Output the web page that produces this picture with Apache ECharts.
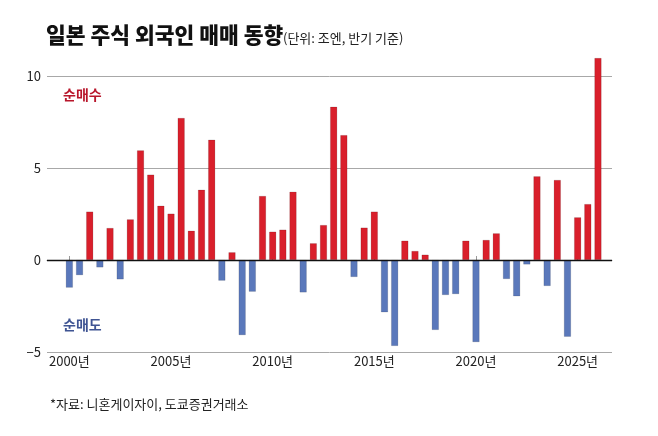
<!DOCTYPE html>
<html>
<head>
<meta charset="utf-8">
<script src="https://cdn.jsdelivr.net/npm/echarts@6/dist/echarts.min.js"></script>
<style>html,body{margin:0;padding:0;background:#fff;}#c{width:658px;height:436px;}</style>
</head>
<body>
<div id="c"></div>
<script>
// Half-year periods 2000 H1 .. 2026 H1
const periods = [];
for (let y = 2000; y <= 2026; y++) { periods.push(y + 'H1'); if (y < 2026) periods.push(y + 'H2'); }
// Net foreign buying of Japanese stocks (trillion yen, per half-year)
const values = [
  -1.5, -0.82, 2.63, -0.4, 1.74, -1.05, 2.21, 5.96, 4.64, 2.95,
  2.52, 7.72, 1.59, 3.82, 6.54, -1.12, 0.42, -4.08, -1.72, 3.48,
  1.54, 1.65, 3.71, -1.76, 0.91, 1.9, 8.33, 6.79, -0.92, 1.76,
  2.63, -2.84, -4.67, 1.05, 0.49, 0.29, -3.8, -1.9, -1.85, 1.05,
  -4.46, 1.09, 1.45, -1.03, -1.97, -0.24, 4.55, -1.41, 4.35, -4.17,
  2.32, 3.04, 10.98
];
const xTickYears = [2000, 2005, 2010, 2015, 2020, 2025];
const yTicks = [-5, 0, 5, 10];

const barData = periods.map((p, i) => {
  const yr = parseInt(p.slice(0, 4), 10);
  const pos = yr + (p.endsWith('H2') ? 0.5 : 0);
  return [pos, values[i]];
});

const chart = echarts.init(document.getElementById('c'));
const FONT = '"Noto Sans CJK KR", "Noto Sans", sans-serif';
chart.setOption({
  animation: false,
  backgroundColor: '#fff',
  grid: { left: 47, right: 46, top: 54, bottom: 84 },
  xAxis: {
    type: 'value',
    min: 1998.9,
    max: 2026.69,
    splitLine: { show: false },
    axisLine: { show: true, lineStyle: { color: '#9a9a9a', width: 1 } },
    axisTick: { show: true, inside: true, length: 4, customValues: xTickYears, lineStyle: { color: '#9a9a9a' } },
    axisLabel: { customValues: xTickYears, formatter: v => v + '년', color: '#222', fontSize: 13, fontFamily: FONT, margin: 3 }
  },
  yAxis: {
    type: 'value',
    min: -5,
    max: 11.2,
    interval: 5,
    axisLine: { show: false },
    axisTick: { show: false },
    splitLine: { show: true, showMaxLine: false, lineStyle: { color: ['#a8a8a8', 'transparent', '#a8a8a8', '#a8a8a8'], width: 1 } },
    axisLabel: { customValues: yTicks, formatter: v => String(v).replace('-', '−'), color: '#222', fontSize: 13, fontFamily: FONT, margin: 6 }
  },
  series: [{
    type: 'bar',
    barWidth: 7,
    data: barData,
    itemStyle: {
      color: p => p.value[1] >= 0 ? '#d91f2b' : '#5a78bb',
      borderColor: 'rgba(0,0,0,0.25)',
      borderWidth: 0.5
    },
    markLine: {
      silent: true,
      symbol: 'none',
      label: { show: false },
      lineStyle: { color: '#111', width: 1.3, type: 'solid' },
      data: [{ yAxis: 0 }],
      z: 10
    }
  }],
  graphic: [
    { type: 'text', left: 46, top: 24, style: { text: '일본 주식 외국인 매매 동향', font: '900 21.5px ' + FONT, fill: '#111' } },
    { type: 'text', left: 283, top: 32, style: { text: '(단위: 조엔, 반기 기준)', font: '13px ' + FONT, fill: '#222' } },
    { type: 'text', left: 63, top: 88, style: { text: '순매수', font: 'bold 14px ' + FONT, fill: '#b8162b' } },
    { type: 'text', left: 63, top: 318, style: { text: '순매도', font: 'bold 14px ' + FONT, fill: '#3f5493' } },
    { type: 'text', left: 50, top: 398, style: { text: '*자료: 니혼게이자이, 도쿄증권거래소', font: '13px ' + FONT, fill: '#222' } }
  ]
});
</script>
</body>
</html>
